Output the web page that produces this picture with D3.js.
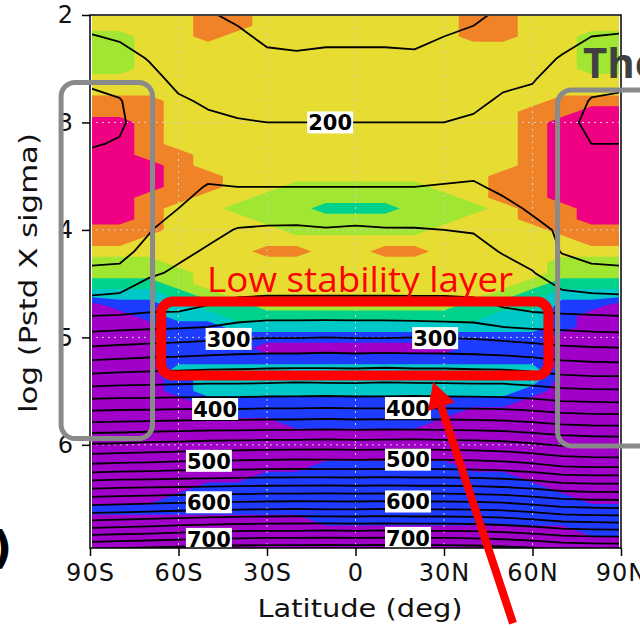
<!DOCTYPE html>
<html>
<head>
<meta charset="utf-8">
<script src="https://cdn.jsdelivr.net/npm/d3@7"></script>
<style>
body { margin: 0; background: #fff; }
svg { display: block; }
</style>
</head>
<body>
<div id="chart"></div>
<script>
// latitude columns of both grids
var lats = [-90, -80, -70, -60, -50, -40, -30, -20, -10, 0, 10, 20, 30, 40, 50, 60, 70, 80, 90];

// shaded field: one class digit per latitude, rows every 0.1 in log(Pstd X sigma)
var shadeLevels = [2.0, 2.1, 2.2, 2.3, 2.4, 2.5, 2.6, 2.7, 2.8, 2.9, 3.0, 3.1, 3.2, 3.3, 3.4, 3.5, 3.6, 3.7, 3.8, 3.9,
                   4.0, 4.1, 4.2, 4.3, 4.4, 4.5, 4.6, 4.7, 4.8, 4.9, 5.0, 5.1, 5.2, 5.3, 5.4, 5.5, 5.6, 5.7, 5.8, 5.9,
                   6.0, 6.1, 6.2, 6.3, 6.4, 6.5, 6.6, 6.7, 6.8, 6.9, 7.0];
var shadeRows = [
  "5555665555555665555",
  "5555665555555665555",
  "4455655555555665544",
  "4455555555555555544",
  "4455555555555555544",
  "4455555555555555544",
  "5555555555555555555",
  "5555555555555555555",
  "6665555555555555666",
  "6665555555555556677",
  "7765555555555556777",
  "7765555555555556777",
  "7765555555555556777",
  "7766555555555556777",
  "7776555555555556777",
  "7776655555555566777",
  "7776655444445566777",
  "7766554444444566777",
  "7765544433344456677",
  "7765554444444556677",
  "6665555444445555666",
  "6655555555555555566",
  "5555556655665555555",
  "4445555555555555444",
  "4444555555555555444",
  "3334555555555554333",
  "2223455555555543222",
  "0112334444444333110",
  "0012233333333322100",
  "0001122222222222100",
  "0001111111111111000",
  "0001110000000111000",
  "0001111111111111000",
  "0002222222222222000",
  "0001222222222222000",
  "0001222222222221000",
  "0000111111111110000",
  "0000011111111000000",
  "0000000111110000000",
  "0000000000000000000",
  "0000000000000000000",
  "0000000000000000000",
  "0000000011111000000",
  "0000001111111110000",
  "0000111111111111000",
  "0001111111111111100",
  "1111111111111111111",
  "0000000011111111111",
  "0000000000000000011",
  "0000000000000000000",
  "0000000000000000000"
];
var shadeThresholds = [0.5, 1.5, 2.5, 3.5, 4.5, 5.5, 6.5];
var shadeColors = ["#a000c8", "#1e3cff", "#00c8c8", "#00d28c", "#a0e632", "#e6dc32", "#f08228", "#f00082"];

// temperature (K) for the black contour lines, rows every 0.2
var tempLevels = [2.0, 2.2, 2.4, 2.6, 2.8, 3.0, 3.2, 3.4, 3.6, 3.8, 4.0, 4.2, 4.4, 4.6, 4.8,
                  5.0, 5.2, 5.4, 5.6, 5.8, 6.0, 6.2, 6.4, 6.6, 6.8, 7.0];
var tempRows = [
  [193,190,186,182,181,178,173,171,171,171,172,172,176,178,182,185,190,193,194],
  [201,198,192,187,185,182,178,176,177,177,177,177,180,182,187,190,195,200,201],
  [210,206,199,192,189,186,182,182,183,183,183,182,185,187,192,195,201,208,209],
  [218,214,205,196,193,191,188,188,189,189,189,188,190,192,197,199,207,215,217],
  [223,221,210,202,198,196,194,194,194,194,194,194,195,197,202,204,212,221,222],
  [224,222,213,206,203,201,200,200,200,200,200,200,200,202,206,207,216,223,223],
  [221,219,215,209,209,207,207,206,206,207,206,207,207,209,210,210,218,220,220],
  [216,215,216,212,214,214,213,213,213,213,213,213,214,215,213,213,218,216,216],
  [214,213,217,215,221,220,220,220,220,220,220,220,221,222,217,215,217,214,214],
  [213,213,218,220,228,230,232,233,232,232,232,231,232,231,224,218,217,213,213],
  [214,214,219,228,235,241,242,242,241,242,241,241,240,239,232,224,218,214,214],
  [216,216,224,236,242,247,248,248,247,248,248,247,246,245,239,232,219,216,216],
  [222,223,237,243,249,253,254,254,254,254,254,253,253,252,246,241,229,223,222],
  [239,241,250,252,256,258,259,259,259,259,259,259,259,258,254,251,243,241,240],
  [260,261,262,262,264,272,275,275,275,275,275,274,273,272,264,262,262,261,260],
  [287,289,291,293,295,298,299,299,300,299,299,300,299,298,295,292,289,287,286],
  [318,320,322,323,325,326,327,327,328,327,328,327,327,326,325,322,318,316,315],
  [350,352,353,354,355,355,356,357,356,356,357,356,356,355,355,352,348,346,346],
  [385,386,386,387,387,387,388,388,389,388,388,389,388,388,387,385,381,380,379],
  [422,423,424,425,426,426,427,427,428,427,428,427,427,426,425,422,418,416,416],
  [462,463,465,466,468,469,470,470,471,470,470,471,470,469,467,463,458,456,455],
  [505,507,508,510,511,512,513,514,513,513,514,513,513,512,510,506,500,498,498],
  [558,560,561,562,563,564,565,565,566,565,566,565,565,564,562,558,552,550,550],
  [610,612,614,616,618,619,620,621,620,620,621,620,620,619,617,612,606,604,603],
  [668,670,672,675,677,679,680,680,681,680,681,680,680,679,676,672,666,664,663],
  [730,732,734,736,738,739,740,740,741,740,740,741,740,739,737,733,728,726,725]
];
var tempContours = [180, 200, 220, 240, 260, 280, 300, 320, 340, 360, 380, 400, 420, 440, 460,
                    480, 500, 520, 540, 560, 580, 600, 620, 640, 660, 680, 700, 720, 740];

// contour labels
var labelValues = [200, 300, 300, 400, 400, 500, 500, 600, 600, 700, 700];
var labelLats = [-8.6, -43, 27, -47.6, 17.8, -49.7, 17.8, -49.7, 17.8, -49.7, 17.8];

// axes
var xTicks = [-90, -60, -30, 0, 30, 60, 90];
var xTickLabels = ["90S", "60S", "30S", "0", "30N", "60N", "90N"];
var yTicks = [2, 3, 4, 5, 6];

var w = 640, h = 628;
var x = d3.scaleLinear().domain([-90, 90]).range([90, 621]);
var y = d3.scaleLinear().domain([2, 6.96]).range([15, 548]);

var svg = d3.select("#chart").append("svg")
    .attr("width", w)
    .attr("height", h);

svg.append("defs").append("clipPath").attr("id", "plotclip")
  .append("rect").attr("x", 92).attr("y", 16).attr("width", 527).attr("height", 532);

// grid index -> data -> pixels
var latIdx = d3.scaleLinear().domain([0, lats.length - 1]).range([lats[0], lats[lats.length - 1]]);
function gridPath(levels) {
    var rowIdx = d3.scaleLinear().domain([0, levels.length - 1]).range([levels[0], levels[levels.length - 1]]);
    return d3.geoPath(d3.geoTransform({
        point: function (px, py) {
            this.stream.point(x(latIdx(px - 0.5)), y(rowIdx(py - 0.5)));
        }
    }));
}

var shadeValues = [];
shadeRows.forEach(function (row) {
    row.split("").forEach(function (c) { shadeValues.push(+c); });
});
var tempValues = [];
tempRows.forEach(function (row) { tempValues = tempValues.concat(row); });

var plot = svg.append("g").attr("clip-path", "url(#plotclip)");

// shading
plot.append("rect")
    .attr("x", 90).attr("y", 15).attr("width", 531).attr("height", 533)
    .attr("fill", shadeColors[0]);

var shadeSets = d3.contours()
    .size([lats.length, shadeLevels.length])
    .thresholds(shadeThresholds)(shadeValues);

plot.selectAll("path.shade")
    .data(shadeSets)
    .enter()
    .append("path")
    .attr("class", "shade")
    .attr("d", gridPath(shadeLevels))
    .attr("fill", function (d, i) { return shadeColors[i + 1]; });

// dotted grid
plot.selectAll("line.gx")
    .data(xTicks.slice(1, -1))
    .enter().append("line")
    .attr("x1", function (d) { return x(d); }).attr("x2", function (d) { return x(d); })
    .attr("y1", 15).attr("y2", 548)
    .attr("stroke", "#cfcfcf").attr("stroke-width", 1).attr("stroke-dasharray", "2,4");
plot.selectAll("line.gy")
    .data(yTicks.slice(1))
    .enter().append("line")
    .attr("y1", function (d) { return y(d); }).attr("y2", function (d) { return y(d); })
    .attr("x1", 90).attr("x2", 621)
    .attr("stroke", "#cfcfcf").attr("stroke-width", 1).attr("stroke-dasharray", "2,4");

// temperature lines
var tempSets = d3.contours()
    .size([lats.length, tempLevels.length])
    .thresholds(tempContours)(tempValues);

plot.selectAll("path.temp")
    .data(tempSets)
    .enter()
    .append("path")
    .attr("class", "temp")
    .attr("d", gridPath(tempLevels))
    .attr("fill", "none")
    .attr("stroke", "#000")
    .attr("stroke-width", 1.8)
    .attr("stroke-linejoin", "round");

// where a temperature crosses in the nearest column
function levelOf(value, lat) {
    var j = Math.round((lat - lats[0]) / 10);
    for (var i = 0; i < tempLevels.length - 1; i++) {
        var a = tempRows[i][j], b = tempRows[i + 1][j];
        if (a <= value && b >= value) {
            return tempLevels[i] + (value - a) / (b - a) * (tempLevels[i + 1] - tempLevels[i]);
        }
    }
    return tempLevels[0];
}

var labels = svg.selectAll("g.clab")
    .data(labelValues)
    .enter().append("g")
    .attr("class", "clab")
    .attr("transform", function (d, i) {
        return "translate(" + x(labelLats[i]) + "," + y(levelOf(d, labelLats[i])) + ")";
    });
labels.append("rect")
    .attr("x", -23).attr("y", -11).attr("width", 46).attr("height", 22)
    .attr("fill", "#fff");
labels.append("text")
    .attr("text-anchor", "middle")
    .attr("dy", "0.37em")
    .style("font-family", "DejaVu Sans")
    .style("font-weight", "bold")
    .style("font-size", "21px")
    .text(function (d) { return d; });

// axes
var yAxis = d3.axisLeft(y).tickValues(yTicks).tickSize(8).tickPadding(8).tickFormat(d3.format("d"));
var gy = svg.append("g").attr("transform", "translate(90,0)").call(yAxis);
var xAxis = d3.axisBottom(x).tickValues(xTicks).tickSize(8).tickPadding(8)
    .tickFormat(function (d, i) { return xTickLabels[i]; });
var gx = svg.append("g").attr("transform", "translate(0,548)").call(xAxis);
[gx, gy].forEach(function (g) {
    g.select(".domain").remove();
    g.selectAll(".tick line").attr("stroke", "#000").attr("stroke-width", 1.5);
    g.selectAll(".tick text")
        .style("font-family", "DejaVu Sans")
        .style("font-size", "24px")
        .style("letter-spacing", "1px")
        .attr("fill", "#111");
});

svg.append("rect")
    .attr("x", 90).attr("y", 15).attr("width", 531).attr("height", 533)
    .attr("fill", "none").attr("stroke", "#000").attr("stroke-width", 1.5);

svg.append("text")
    .attr("x", 360).attr("y", 617)
    .attr("text-anchor", "middle")
    .attr("textLength", 205).attr("lengthAdjust", "spacingAndGlyphs")
    .style("font-family", "DejaVu Sans").style("font-size", "25px")
    .attr("fill", "#111")
    .text("Latitude (deg)");

svg.append("text")
    .attr("transform", "translate(37,273) rotate(-90)")
    .attr("text-anchor", "middle")
    .attr("textLength", 280).attr("lengthAdjust", "spacingAndGlyphs")
    .style("font-family", "DejaVu Sans").style("font-size", "25px")
    .attr("fill", "#111")
    .text("log (Pstd X sigma)");

// annotations (data units)
var grayBoxes = [[-99.8, 2.628, -68.8, 5.941], [68.5, 2.698, 103.2, 6.01]];
svg.selectAll("rect.gbox")
    .data(grayBoxes)
    .enter().append("rect")
    .attr("class", "gbox")
    .attr("x", function (d) { return x(d[0]); })
    .attr("y", function (d) { return y(d[1]); })
    .attr("width", function (d) { return x(d[2]) - x(d[0]); })
    .attr("height", function (d) { return y(d[3]) - y(d[1]); })
    .attr("rx", 14)
    .attr("fill", "none").attr("stroke", "#8a8a8a").attr("stroke-width", 5);

var redBox = [-65.9, 4.666, 65.4, 5.355];
svg.append("rect")
    .attr("x", x(redBox[0])).attr("y", y(redBox[1]))
    .attr("width", x(redBox[2]) - x(redBox[0]))
    .attr("height", y(redBox[3]) - y(redBox[1]))
    .attr("rx", 12)
    .attr("fill", "none").attr("stroke", "#ff0000").attr("stroke-width", 10);

svg.append("text")
    .attr("x", x(-50.3)).attr("y", y(4.578))
    .attr("textLength", 306).attr("lengthAdjust", "spacingAndGlyphs")
    .style("font-family", "Open Sans").style("font-size", "35px")
    .attr("fill", "#ff0000")
    .text("Low stability layer");

svg.append("text")
    .attr("x", x(77.1)).attr("y", y(2.586))
    .style("font-family", "Open Sans").style("font-weight", "bold").style("font-size", "42px")
    .attr("fill", "#404040")
    .text("The");

svg.append("text")
    .attr("x", -8).attr("y", 563)
    .style("font-family", "DejaVu Sans").style("font-weight", "bold").style("font-size", "44px")
    .attr("fill", "#000")
    .text(")");

// arrow
var arrowTail = [x(53.4), y(7.66)], arrowTip = [x(26.3), y(5.415)];
var dx = arrowTip[0] - arrowTail[0], dy = arrowTip[1] - arrowTail[1];
var len = Math.sqrt(dx * dx + dy * dy), ux = dx / len, uy = dy / len;
var base = [arrowTip[0] - ux * 26, arrowTip[1] - uy * 26];
svg.append("line")
    .attr("x1", arrowTail[0]).attr("y1", arrowTail[1])
    .attr("x2", base[0]).attr("y2", base[1])
    .attr("stroke", "#ff0000").attr("stroke-width", 8);
svg.append("path")
    .attr("d", "M" + arrowTip[0] + "," + arrowTip[1] +
               "L" + (base[0] - uy * 14) + "," + (base[1] + ux * 14) +
               "L" + (base[0] + uy * 14) + "," + (base[1] - ux * 14) + "Z")
    .attr("fill", "#ff0000");
</script>
</body>
</html>
